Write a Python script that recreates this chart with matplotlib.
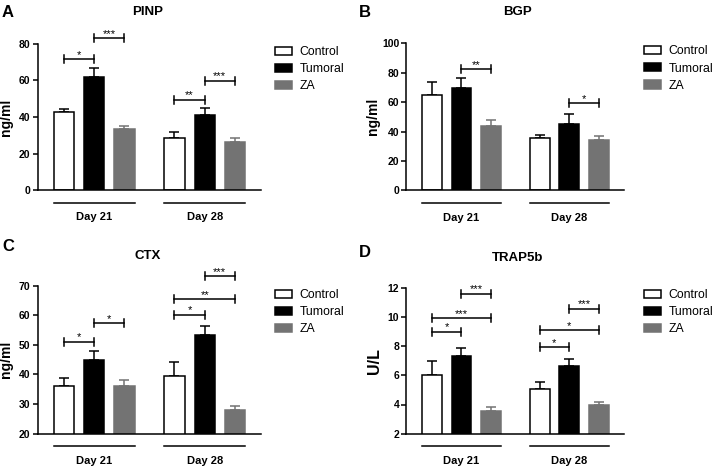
import matplotlib
matplotlib.use("Agg")
import matplotlib.pyplot as plt
import matplotlib.transforms as mtransforms
from matplotlib.patches import Patch
import numpy as np

plt.rcParams['font.family'] = ['Liberation Sans', 'DejaVu Sans']

# ---------------- data ----------------
days = ["Day 21", "Day 28"]
groups = ["Control", "Tumoral", "ZA"]
colors = ["white", "black", "#737373"]
edgecolors = ["black", "black", "#737373"]

panels = ["A", "B", "C", "D"]
titles = ["PINP", "BGP", "CTX", "TRAP5b"]
ylabels = ["ng/ml", "ng/ml", "ng/ml", "U/L"]

# means [Control, Tumoral, ZA] per day
pinp_mean = {"Control": [42.9, 28.7], "Tumoral": [62.1, 41.3], "ZA": [33.2, 26.5]}
pinp_err = {"Control": [1.3, 3.3], "Tumoral": [4.9, 3.8], "ZA": [2.0, 2.0]}
bgp_mean = {"Control": [65.0, 35.6], "Tumoral": [69.8, 45.3], "ZA": [43.5, 34.0]}
bgp_err = {"Control": [8.7, 2.0], "Tumoral": [6.6, 6.8], "ZA": [4.1, 2.9]}
ctx_mean = {"Control": [36.1, 39.3], "Tumoral": [44.7, 53.2], "ZA": [36.1, 27.9]}
ctx_err = {"Control": [2.7, 4.9], "Tumoral": [3.3, 3.1], "ZA": [1.9, 1.5]}
trap_mean = {"Control": [6.04, 5.05], "Tumoral": [7.35, 6.65], "ZA": [3.54, 3.98]}
trap_err = {"Control": [0.92, 0.48], "Tumoral": [0.51, 0.45], "ZA": [0.26, 0.20]}

means = [pinp_mean, bgp_mean, ctx_mean, trap_mean]
errs = [pinp_err, bgp_err, ctx_err, trap_err]

ylims = [(0, 80), (0, 100), (20, 70), (2, 12)]
ysteps = [20, 20, 10, 2]

# significance brackets: (day index, from group, to group, height, label)
pinp_sig = [(0, 0, 1, 71.6, "*"), (0, 1, 2, 83.3, "***"),
            (1, 0, 1, 49.5, "**"), (1, 1, 2, 59.9, "***")]
bgp_sig = [(0, 1, 2, 82.5, "**"), (1, 1, 2, 59.4, "*")]
ctx_sig = [(0, 0, 1, 51.1, "*"), (0, 1, 2, 57.2, "*"),
           (1, 0, 1, 60.2, "*"), (1, 0, 2, 65.4, "**"), (1, 1, 2, 73.1, "***")]
trap_sig = [(0, 0, 1, 8.98, "*"), (0, 0, 2, 9.9, "***"), (0, 1, 2, 11.6, "***"),
            (1, 0, 1, 7.94, "*"), (1, 0, 2, 9.08, "*"), (1, 1, 2, 10.55, "***")]
sigs = [pinp_sig, bgp_sig, ctx_sig, trap_sig]

# ---------------- layout ----------------
W, H = 714, 468
fig = plt.figure(figsize=(W / 100, H / 100), dpi=100)

# axes rectangles in pixel coords: left, right, top, bottom (from top of image)
rects_px = [(37.5, 260.7, 44.0, 190.0),
            (406.3, 623.7, 43.3, 190.3),
            (37.5, 260.7, 285.5, 433.7),
            (406.3, 623.7, 287.7, 433.7)]
letter_pos = [(2, 5), (359, 5), (2, 239), (359, 245)]
title_pos = [(148, 12), (517, 12), (148, 256), (518, 258)]
legend_pos = [(275, 46), (644, 45.5), (275, 289), (644, 289)]
ylab_x = [-0.108, -0.12, -0.108, -0.112]
ylab_size = [10, 10, 10, 11.5]

day_offsets = [0.0, 3.65]
bar_w = 0.67
lw = 1.1

for p in range(4):
    l, r, t, b = rects_px[p]
    ax = fig.add_axes([l / W, 1 - b / H, (r - l) / W, (b - t) / H])
    ymin, ymax = ylims[p]
    for gi, g in enumerate(groups):
        xs = [day_offsets[d] + gi for d in range(2)]
        ax.errorbar(xs, means[p][g], yerr=[np.zeros(2), errs[p][g]], fmt='none',
                    ecolor=edgecolors[gi], elinewidth=lw, capsize=3.6,
                    capthick=lw, zorder=1, clip_on=False)
        ax.bar(xs, means[p][g], width=bar_w, bottom=0, color=colors[gi],
               edgecolor=edgecolors[gi], linewidth=lw, zorder=2)
    ax.set_xlim(-0.87, 6.5)
    ax.set_ylim(ymin, ymax)
    ax.set_yticks(np.arange(ymin, ymax + 0.001, ysteps[p]))
    ax.set_xticks([])
    for s in ["top", "right"]:
        ax.spines[s].set_visible(False)
    for s in ["left", "bottom"]:
        ax.spines[s].set_linewidth(lw)
    ax.tick_params(axis='y', direction='out', length=3.5, width=lw,
                   labelsize=7.5, pad=1.5)
    for tl in ax.get_yticklabels():
        tl.set_fontweight('bold')
    ax.set_ylabel(ylabels[p], fontsize=ylab_size[p], fontweight='bold')
    ax.yaxis.set_label_coords(ylab_x[p], 0.5)

    # day grouping lines and labels
    ax_h_px = b - t
    line_off = mtransforms.ScaledTranslation(0, -12.5 / 100, fig.dpi_scale_trans)
    trans = mtransforms.blended_transform_factory(ax.transData, ax.transAxes)
    for d in range(2):
        x0 = day_offsets[d] - bar_w / 2
        x1 = day_offsets[d] + 2 + bar_w / 2
        ax.plot([x0, x1], [0, 0], color='black', lw=lw, clip_on=False,
                transform=trans + line_off)
        ax.annotate(days[d], xy=(day_offsets[d] + 1, 0), xycoords=trans,
                    xytext=(0, -27.5 * 0.72), textcoords='offset points',
                    ha='center', va='center', fontsize=8, fontweight='bold',
                    annotation_clip=False)

    # significance brackets
    dy = 4.0 * (ymax - ymin) / ax_h_px
    for (d, g0, g1, yv, lab) in sigs[p]:
        x0 = day_offsets[d] + g0
        x1 = day_offsets[d] + g1
        ax.plot([x0, x1], [yv, yv], color='black', lw=lw, clip_on=False)
        ax.plot([x0, x0], [yv - dy, yv + dy], color='black', lw=lw, clip_on=False)
        ax.plot([x1, x1], [yv - dy, yv + dy], color='black', lw=lw, clip_on=False)
        ax.annotate(lab, xy=((x0 + x1) / 2, yv), xycoords='data',
                    xytext=(0, 1.0), textcoords='offset points',
                    ha='center', va='baseline', fontsize=8,
                    annotation_clip=False)

    # legend
    handles = [Patch(facecolor=colors[i], edgecolor=edgecolors[i], linewidth=lw,
                     label=groups[i]) for i in range(3)]
    lx, ly = legend_pos[p]
    fig.legend(handles=handles, loc='upper left',
               bbox_to_anchor=(lx / W, 1 - ly / H), frameon=False,
               fontsize=8.8, handlelength=1.39, handleheight=0.65,
               handletextpad=0.62, labelspacing=0.42, borderpad=0,
               borderaxespad=0)

    # panel letter and title
    fx, fy = letter_pos[p]
    fig.text(fx / W, 1 - fy / H, panels[p], ha='left', va='top',
             fontsize=12, fontweight='bold')
    tx, ty = title_pos[p]
    fig.text(tx / W, 1 - ty / H, titles[p], ha='center', va='center',
             fontsize=9.5, fontweight='bold')

fig.savefig("out.png", dpi=100)
